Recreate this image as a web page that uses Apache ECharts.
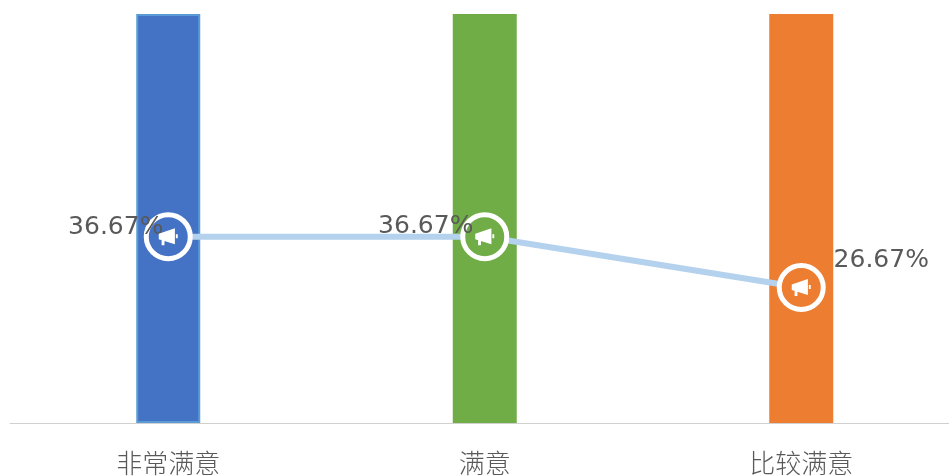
<!DOCTYPE html>
<html>
<head>
<meta charset="utf-8">
<style>
html, body { margin: 0; padding: 0; background: #fff; }
#chart { width: 949px; height: 476px; }
</style>
<script src="https://cdn.jsdelivr.net/npm/echarts@6/dist/echarts.min.js"></script>
</head>
<body>
<div id="chart"></div>
<script>
// 满意度数据
var categories = ['非常满意', '满意', '比较满意'];
var barValues = [80.5, 80.5, 80.5];
var percentValues = [36.67, 36.67, 26.67];

var barColors = ['#4472c4', '#70ad47', '#ed7d31'];
var barBorders = ['#5b9bd5', '#70ad47', '#ed7d31'];
var labelOffsets = [[-52.5, -9], [-59, -10], [80, -27]];
var hornIcon = 'path://M0 5.5 L17 0 L17 16 L0 11 Z M3 11.5 L6 12.5 L6 17 L3 17 Z M18 6 L20 6 L20 10 L18 10 Z';

var chart = echarts.init(document.getElementById('chart'), null, { renderer: 'canvas' });

chart.setOption({
    animation: false,
    backgroundColor: '#fff',
    grid: { left: 10, top: 14, width: 949.5, height: 409, outerBoundsMode: 'none' },
    xAxis: {
        type: 'category',
        data: categories,
        axisLine: { lineStyle: { color: '#d0d0d0', width: 1 } },
        axisTick: { show: false },
        axisLabel: {
            color: '#595959',
            fontSize: 26,
            fontFamily: 'Noto Sans CJK SC',
            fontWeight: 300,
            margin: 27
        }
    },
    yAxis: {
        type: 'value',
        min: 0,
        max: 80.5,
        show: false
    },
    series: [{
        type: 'bar',
        barWidth: 64,
        data: barValues.map(function (v, i) {
            return { value: v, itemStyle: { color: barColors[i], borderColor: barBorders[i], borderWidth: 2 } };
        })
    }, {
        type: 'line',
        symbol: 'circle',
        symbolSize: 44,
        z: 3,
        lineStyle: { color: '#b4d2ed', width: 6 },
        data: percentValues.map(function (v, i) {
            return {
                value: v,
                itemStyle: { color: barColors[i], borderColor: '#fff', borderWidth: 5, opacity: 1 },
                label: {
                    show: true,
                    position: 'inside',
                    offset: labelOffsets[i],
                    formatter: '{c}%',
                    color: '#595959',
                    fontSize: 25,
                    fontFamily: 'DejaVu Sans'
                }
            };
        })
    }, {
        type: 'line',
        symbol: hornIcon,
        symbolSize: [19, 17],
        z: 4,
        lineStyle: { opacity: 0 },
        itemStyle: { color: '#fff' },
        data: percentValues
    }]
});
</script>
</body>
</html>
